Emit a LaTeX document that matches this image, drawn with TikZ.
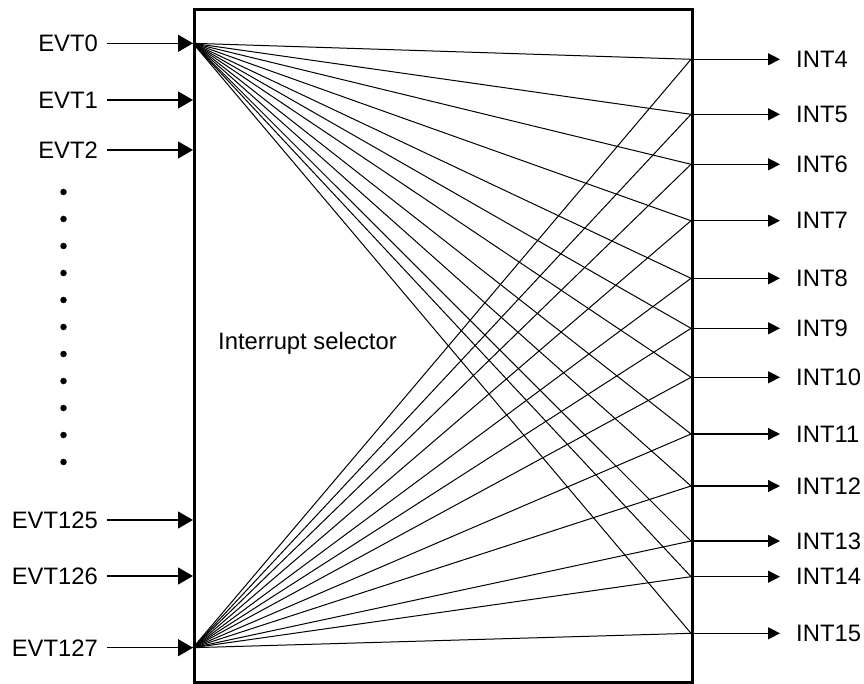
\documentclass[tikz,border=0pt]{standalone}
\usepackage{fontspec}
\setmainfont{Liberation Sans}
\usetikzlibrary{arrows.meta}
\begin{document}
\begin{tikzpicture}[x=1pt,y=-1pt,
  lbl/.style={inner sep=0pt, font=\fontsize{23.8}{28}\selectfont},
  inarrow/.style={line width=1.3pt, -{Triangle[length=15pt,width=17pt]}},
  outarrow/.style={line width=1.3pt, -{Triangle[length=12pt,width=12pt]}},
  fan/.style={line width=1pt},
  dotmark/.style={circle, fill=black, inner sep=0pt, minimum size=6.5pt}]
\useasboundingbox (0,0) rectangle (864,684);
% box
\node[draw, line width=3pt, inner sep=0pt, minimum width=498pt, minimum height=673pt, anchor=north west] (box) at (193,8) {};
\node[lbl, anchor=base] (title) at (307.5,349) {Interrupt selector};
% inputs
\foreach \n/\y in {0/43.3, 1/100, 2/150, 125/520, 126/576, 127/647.7} {
  \node[lbl, anchor=east] (e\n) at (98,\y) {EVT\n};
  \coordinate (in\n) at (193,\y);
  \draw[inarrow] ([xshift=9pt]e\n.east) -- (in\n);
}
% dots
\foreach \i in {0,...,10} {
  \node[dotmark] (d\i) at (63.5,{192+27*\i}) {};
}
% outputs
\foreach \n/\y in {4/59.3, 5/114.3, 6/164.3, 7/220.7, 8/278.3, 9/328.3, 10/377.3, 11/434, 12/486, 13/541, 14/576.7, 15/633.3} {
  \coordinate (out\n) at (691,\y);
  \node[lbl, anchor=west] (i\n) at (796,\y) {INT\n};
  \draw[outarrow] (out\n) -- ([xshift=-16pt]i\n.west);
  \draw[fan] (in0) -- (out\n);
  \draw[fan] (in127) -- (out\n);
}
\end{tikzpicture}
\end{document}
